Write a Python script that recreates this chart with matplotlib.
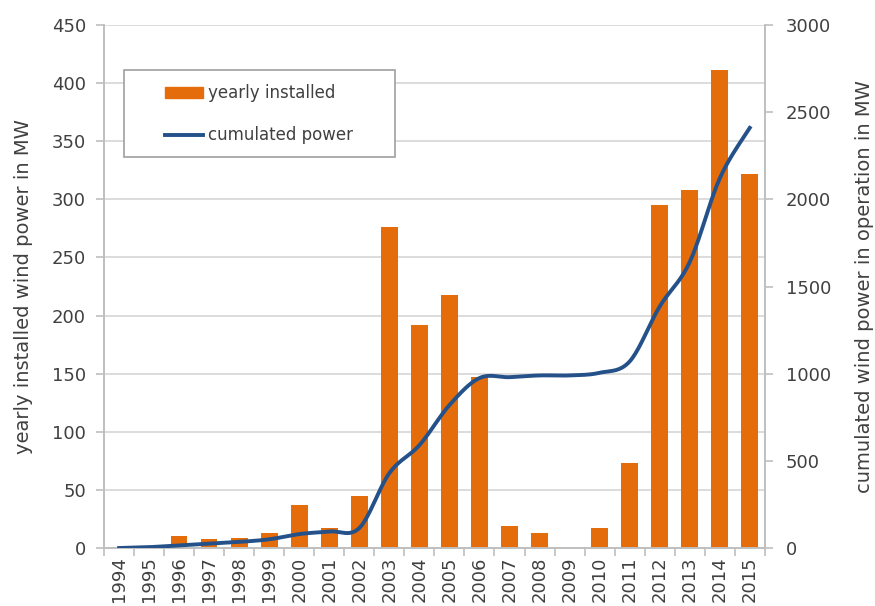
import numpy as np
import matplotlib.pyplot as plt
from matplotlib.patches import Patch, Rectangle
from matplotlib.lines import Line2D

plt.rcParams['font.family'] = ['DejaVu Sans']

years = [str(y) for y in range(1994, 2016)]
yearly = [1, 0, 10, 8, 9, 13, 37, 17, 45, 276, 192, 218, 147, 19, 13, 0, 17, 73, 295, 308, 411, 322]
cumulated = [0, 5, 15, 25, 35, 50, 80, 95, 115, 430, 590, 820, 975, 980, 990, 990, 1005, 1070,
             1385, 1640, 2120, 2410]

orange = '#E46C0A'
blue = '#245189'
gray = '#BFBFBF'
txt = '#404040'


def smooth(x, y, n=20):
    # catmull-rom through the points, like the spreadsheet's smoothed line
    p = np.column_stack([x, y]).astype(float)
    p = np.vstack([p[0], p, p[-1]])
    out = []
    t = np.linspace(0, 1, n, endpoint=False)[:, None]
    for i in range(1, len(p) - 2):
        p0, p1, p2, p3 = p[i - 1], p[i], p[i + 1], p[i + 2]
        out.append(0.5 * ((2 * p1) + (-p0 + p2) * t + (2 * p0 - 5 * p1 + 4 * p2 - p3) * t ** 2
                          + (-p0 + 3 * p1 - 3 * p2 + p3) * t ** 3))
    out.append(p[-2][None, :])
    out = np.vstack(out)
    return out[:, 0], out[:, 1]


fig = plt.figure(figsize=(8.75, 6.06), dpi=100)
ax = fig.add_axes([0.119, 0.0957, 0.755, 0.863])
x = np.arange(len(years))

ax.bar(x, yearly, width=0.55, color=orange, zorder=2)
ax.set_xlim(-0.5, len(years) - 0.5)
ax.set_ylim(0, 450)
ax.set_yticks(range(0, 451, 50))
ax.yaxis.grid(True, color='#D6D6D6', linewidth=1.2)
ax.set_axisbelow(True)
ax.set_xticks(x)
ax.set_xticklabels(years, rotation=90, fontsize=13, color=txt)
ax.set_xticks(np.arange(-0.5, len(years), 1), minor=True)
ax.tick_params(axis='x', which='major', length=0, pad=6)
ax.tick_params(axis='x', which='minor', length=6, color=gray, width=1.2)
ax.tick_params(axis='y', length=6, color=gray, width=1.2, labelsize=13, labelcolor=txt, pad=7)
ax.set_ylabel('yearly installed wind power in MW', fontsize=14, color=txt)
ax.yaxis.set_label_coords(-0.107, 0.5)
ax.spines['top'].set_visible(False)
for s in ['left', 'bottom', 'right']:
    ax.spines[s].set_color(gray)
    ax.spines[s].set_linewidth(1.2)

ax2 = ax.twinx()
sx, sy = smooth(x, cumulated)
ax2.plot(sx, sy, color=blue, linewidth=2.8, zorder=3)
ax2.set_ylim(0, 3000)
ax2.set_yticks(range(0, 3001, 500))
ax2.tick_params(axis='y', length=6, color=gray, width=1.2, labelsize=13, labelcolor=txt, pad=9)
ax2.set_ylabel('cumulated wind power in operation in MW', fontsize=14, color=txt)
ax2.yaxis.set_label_coords(1.137, 0.5)
ax2.spines['top'].set_visible(False)
for s in ['left', 'bottom', 'right']:
    ax2.spines[s].set_color(gray)
    ax2.spines[s].set_linewidth(1.2)

# legend frame drawn separately so it can be wider than its contents
fig.patches.append(Rectangle((0.1417, 0.7409), 0.3097, 0.1436, transform=fig.transFigure,
                             facecolor='white', edgecolor='#A0A0A0', linewidth=1.2, zorder=5))
handles = [Patch(color=orange), Line2D([0], [0], color=blue, linewidth=2.8)]
leg = fig.legend(handles, ['yearly installed', 'cumulated power'], loc='upper left',
                 bbox_to_anchor=(0.1886, 0.861), frameon=False, fontsize=12,
                 borderpad=0, labelspacing=1.45, handlelength=2.3, handleheight=0.6,
                 handletextpad=0.3, borderaxespad=0)
leg.set_zorder(6)
for t in leg.get_texts():
    t.set_color(txt)

fig.savefig('out.png', dpi=100)
